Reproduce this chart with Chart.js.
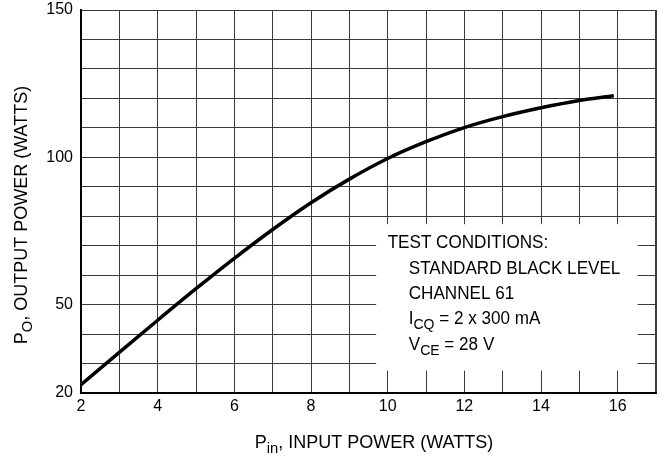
<!DOCTYPE html>
<html>
<head>
<meta charset="utf-8">
<script src="https://cdn.jsdelivr.net/npm/chart.js@4/dist/chart.umd.min.js"></script>
<style>
  html, body { margin: 0; padding: 0; background: #fff; }
  #wrap { width: 660px; height: 457px; }
</style>
</head>
<body>
<div id="wrap"><canvas id="powerChart" width="660" height="457"></canvas></div>
<script>
// Pin (W) vs Po (W)
const pinWatts = [2, 3, 4, 5, 6, 7, 8, 9, 10, 11, 12, 13, 14, 15, 15.9];
const poutWatts = [22.8, 33.8, 44.7, 55.4, 65.7, 75.5, 84.6, 92.6, 99.6, 105.3, 110.1, 113.8, 116.8, 119.3, 120.9];

const xTickLabels = [2, 4, 6, 8, 10, 12, 14, 16];
const yTickLabels = [20, 50, 100, 150];

const xTitle = [{ t: 'P' }, { t: 'in', sub: true }, { t: ', INPUT POWER (WATTS)' }];
const yTitle = [{ t: 'P' }, { t: 'O', sub: true }, { t: ', OUTPUT POWER (WATTS)' }];

const conditions = [
    { indent: 0, parts: [{ t: 'TEST CONDITIONS:' }] },
    { indent: 1, parts: [{ t: 'STANDARD BLACK LEVEL' }] },
    { indent: 1, parts: [{ t: 'CHANNEL 61' }] },
    { indent: 1, parts: [{ t: 'I' }, { t: 'CQ', sub: true }, { t: ' = 2 x 300 mA' }] },
    { indent: 1, parts: [{ t: 'V' }, { t: 'CE', sub: true }, { t: ' = 28 V' }] }
];

const FONT = '"Liberation Sans", Arial, Helvetica, sans-serif';

// Text with subscripts, drawn left to right from (x, y) baseline
function drawRich(ctx, parts, x, y, size, align) {
    const widths = parts.map(p => {
        ctx.font = (p.sub ? size * 0.82 : size) + 'px ' + FONT;
        return ctx.measureText(p.t).width;
    });
    const total = widths.reduce((a, b) => a + b, 0);
    let cx = align === 'center' ? x - total / 2 : x;
    parts.forEach((p, i) => {
        ctx.font = (p.sub ? size * 0.82 : size) + 'px ' + FONT;
        ctx.fillText(p.t, cx, p.sub ? y + size * 0.28 : y);
        cx += widths[i];
    });
}

const textPlugin = {
    id: 'textPlugin',
    beforeDatasetsDraw(chart) {
        const ctx = chart.ctx;
        const xs = chart.scales.x;
        const ys = chart.scales.y;
        // white box for the test conditions
        const left = xs.getPixelForValue(9.7);
        const right = xs.getPixelForValue(16.52);
        const top = ys.getPixelForValue(77.3);
        const bottom = ys.getPixelForValue(27.6);
        ctx.save();
        ctx.fillStyle = '#fff';
        ctx.fillRect(left, top, right - left, bottom - top);
        ctx.fillStyle = '#000';
        ctx.textBaseline = 'alphabetic';
        ctx.textAlign = 'left';
        const firstBase = ys.getPixelForValue(69.1);
        conditions.forEach((line, i) => {
            const x = xs.getPixelForValue(line.indent ? 10.55 : 10.0);
            ctx.save();
            ctx.translate(x, firstBase + i * 25.3);
            ctx.scale(0.95, 1);
            drawRich(ctx, line.parts, 0, 0, 18, 'left');
            ctx.restore();
        });
        ctx.restore();
    },
    afterDraw(chart) {
        const ctx = chart.ctx;
        ctx.save();
        ctx.fillStyle = '#000';
        ctx.textBaseline = 'alphabetic';
        ctx.textAlign = 'left';
        drawRich(ctx, xTitle, 374, 448, 18, 'center');
        ctx.translate(27, 215);
        ctx.rotate(-Math.PI / 2);
        drawRich(ctx, yTitle, 0, 0, 18, 'center');
        ctx.restore();
    }
};

document.addEventListener('DOMContentLoaded', function() {
    const ctx = document.getElementById('powerChart').getContext('2d');
    new Chart(ctx, {
        type: 'line',
        data: {
            datasets: [{
                data: pinWatts.map((x, i) => ({ x: x, y: poutWatts[i] })),
                borderColor: '#000',
                borderWidth: 3.5,
                pointRadius: 0,
                cubicInterpolationMode: 'monotone',
                fill: false
            }]
        },
        options: {
            responsive: false,
            animation: false,
            layout: { padding: { top: 10, right: 4, left: 0, bottom: 0 } },
            plugins: {
                legend: { display: false },
                tooltip: { enabled: false }
            },
            scales: {
                x: {
                    type: 'linear',
                    min: 2,
                    max: 17,
                    afterFit: s => { s.height = 64; s.paddingLeft = 0; s.paddingRight = 0; },
                    ticks: {
                        stepSize: 1,
                        autoSkip: false,
                        maxRotation: 0,
                        padding: 4,
                        color: '#000',
                        font: { family: FONT, size: 16 },
                        callback: v => xTickLabels.includes(v) ? String(v) : ''
                    },
                    grid: {
                        color: '#3a3a3a',
                        drawTicks: false,
                        lineWidth: c => (c.tick && c.tick.value === 17) ? 2 : 1
                    },
                    border: { color: '#000', width: 2 }
                },
                y: {
                    min: 20,
                    max: 150,
                    afterFit: s => { s.width = 81; s.paddingTop = 0; s.paddingBottom = 0; },
                    ticks: {
                        stepSize: 10,
                        autoSkip: false,
                        padding: 8,
                        color: '#000',
                        font: { family: FONT, size: 16 },
                        callback: v => yTickLabels.includes(v) ? String(v) : ''
                    },
                    grid: {
                        color: '#3a3a3a',
                        drawTicks: false,
                        lineWidth: 1
                    },
                    border: { color: '#000', width: 2 }
                }
            }
        },
        plugins: [textPlugin]
    });
});
</script>
</body>
</html>
